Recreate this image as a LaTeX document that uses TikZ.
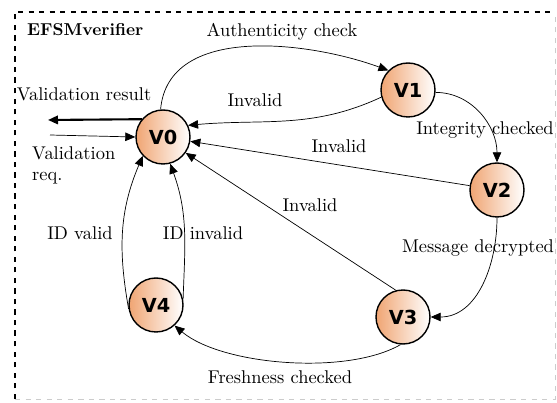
\documentclass[tikz,border=0pt]{standalone}
\usepackage{fontspec}
\newfontfamily\statefont{DejaVu Sans}
\usepackage{tikz}
\usetikzlibrary{positioning, arrows.meta}
\definecolor{vorange}{RGB}{240,165,115}

\begin{document}
\begin{tikzpicture}[x=0.02cm, y=0.02cm,
        statenode/.style={circle, draw, thick, minimum size=1.08cm, inner sep=0pt,
            left color=vorange, right color=white, font=\statefont\bfseries\fontsize{11}{13}\selectfont},
        trans/.style={-{Triangle[length=2mm,width=1.7mm]}},
        lbl/.style={font=\fontsize{10.5}{12.5}\selectfont}]
        \useasboundingbox (0,0) rectangle (557,402);
        % draw the frame
        \draw[thick, dashed] (15,3) -- (15,390) -- (555,390);
        \draw[gray!40, dashed] (15,3) -- (555,3) -- (555,390);
        \node[anchor=west, font=\bfseries\fontsize{9.8}{11}\selectfont] (title) at (21,372) {EFSMverifier};
        % states
        \node[statenode] (v0) at (163,265) {V0};
        \node[statenode] (v1) at (408,312) {V1};
        \node[statenode] (v2) at (497,212) {V2};
        \node[statenode] (v3) at (403,85) {V3};
        \node[statenode] (v4) at (156,97) {V4};
        % input and output
        \coordinate (res) at (48,282);
        \coordinate (req) at (50,267);
        \draw[very thick, trans] (v0.140) -- (res);
        \node[lbl] (reslbl) at (84,308) {Validation result};
        \draw[trans] (req) -- (v0.180);
        \node[lbl, align=left, anchor=north west] (reqlbl) at (26,262) {Validation\\req.};
        % transitions
        \draw[trans] (v0.95) to[out=85, in=160, looseness=0.95] (v1.135);
        \node[lbl] (auth) at (282,370) {Authenticity check};
        \draw[trans] (v1.195) to[out=205, in=5] (v0.25);
        \node[lbl] (inv1) at (255,302) {Invalid};
        \draw[trans] (v1.-5) to[out=0, in=90] (v2.90);
        \node[lbl] (integ) at (485,272) {Integrity checked};
        \draw[trans] (v2) -- (v0);
        \node[lbl] (inv2) at (339,256) {Invalid};
        \draw[trans] (v2.-90) to[out=-90, in=0] (v3.0);
        \node[lbl] (decr) at (478,154) {Message decrypted};
        \draw[trans] (v3.105) -- (v0.-35);
        \node[lbl] (inv3) at (310,197) {Invalid};
        \draw[trans] (v3.-95) to[out=-150, in=-40, looseness=0.7] (v4.-48);
        \node[lbl] (fresh) at (280,25) {Freshness checked};
        % back to V0
        \draw[trans] (v4.188) to[out=100, in=-113] (v0.-137);
        \node[lbl] (idv) at (80,169) {ID valid};
        \draw[trans] (v4.12) to[out=88, in=-70] (v0.-75);
        \node[lbl] (idi) at (203,169) {ID invalid};
\end{tikzpicture}
\end{document}
